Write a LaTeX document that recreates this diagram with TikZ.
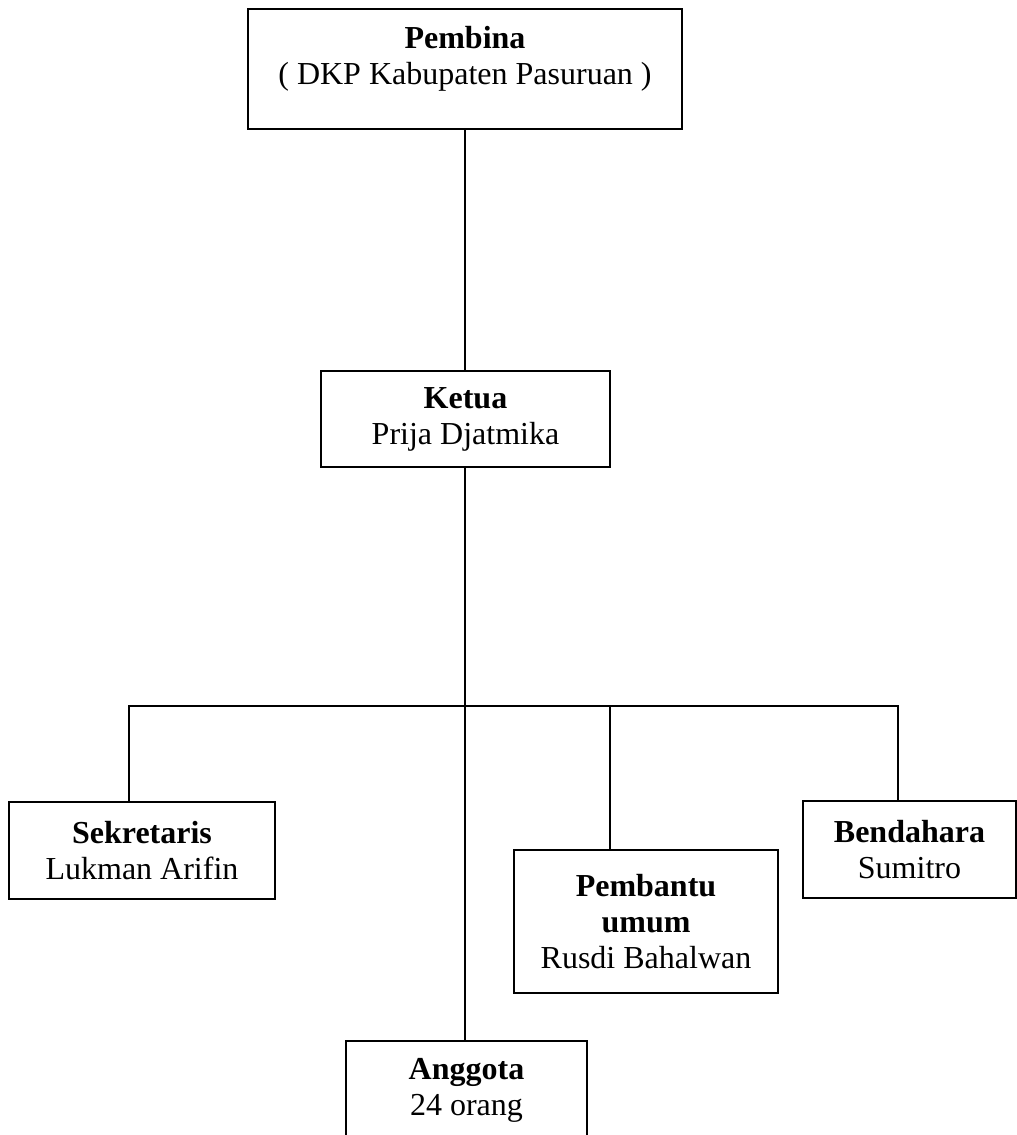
\documentclass[tikz,border=0pt]{standalone}
\usepackage{fontspec}
\setmainfont{Liberation Serif}
\begin{document}
\begin{tikzpicture}[x=0.5pt,y=-0.5pt,
  box/.style={draw,line width=1.2pt,rectangle,inner sep=0pt,align=center,
    font=\fontsize{16}{18}\selectfont},
  txt/.style={inner sep=0pt,align=center,font=\fontsize{16}{18}\selectfont},
  conn/.style={line width=1.2pt}]
\clip (0,0) rectangle (1017,1135);
\fill[white] (0,0) rectangle (1017,1135);
% boxes
\node[box,minimum width=217pt,minimum height=60pt] (pembina) at (465,69) {};
\node[txt] (pembinaT) at (465,59) {\textbf{Pembina}\\( DKP Kabupaten Pasuruan )};
\node[box,minimum width=144.5pt,minimum height=48pt] (ketua) at (465.5,419)
  {\textbf{Ketua}\\Prija Djatmika};
\node[box,minimum width=133pt,minimum height=48.5pt] (sek) at (142,850.5)
  {\textbf{Sekretaris}\\Lukman Arifin};
\node[box,minimum width=132pt,minimum height=71.5pt] (pemb) at (646,921.5)
  {\textbf{Pembantu}\\\textbf{umum}\\Rusdi Bahalwan};
\node[box,minimum width=106.5pt,minimum height=48.5pt] (bend) at (909.5,849.5)
  {\textbf{Bendahara}\\Sumitro};
\node[box,minimum width=120.5pt,minimum height=49pt] (angg) at (466.5,1090)
  {\textbf{Anggota}\\24 orang};
% junctions
\coordinate (jl) at (129,706);
\coordinate (jp) at (610,706);
\coordinate (jr) at (898,706);
% connectors
\draw[conn] (pembina.south) -- (pembina.south |- ketua.north);
\draw[conn] (ketua.south -| pembina.south) -- (pembina.south |- angg.north);
\draw[conn] (jl |- sek.north) -- (jl) -- (jr) -- (jr |- bend.north);
\draw[conn] (jp) -- (jp |- pemb.north);
\end{tikzpicture}
\end{document}
